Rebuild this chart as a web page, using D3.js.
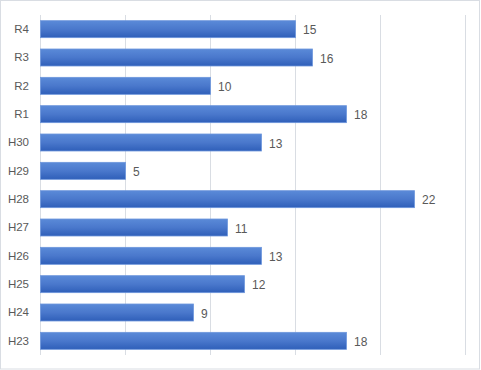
<!DOCTYPE html>
<html>
<head>
<meta charset="utf-8">
<script src="https://cdn.jsdelivr.net/npm/d3@7"></script>
<style>
  body { margin: 0; background: #fff; }
  text { font-family: "Liberation Sans", Arial, sans-serif; }
</style>
</head>
<body>
<div id="chart"></div>
<script>
var categories = ["R4", "R3", "R2", "R1", "H30", "H29", "H28", "H27", "H26", "H25", "H24", "H23"];
var values = [15, 16, 10, 18, 13, 5, 22, 11, 13, 12, 9, 18];
var tickValues = [0, 5, 10, 15, 20, 25];

var svgWidth = 481;
var svgHeight = 370;

var margin = { top: 15, right: 16, bottom: 15, left: 40 };
var width = svgWidth - margin.left - margin.right;
var height = svgHeight - margin.top - margin.bottom;

var svg = d3.select("#chart")
  .append("svg")
  .attr("width", svgWidth)
  .attr("height", svgHeight);

// outer border
svg.append("rect")
  .attr("x", 0.5).attr("y", 0.5)
  .attr("width", svgWidth - 2).attr("height", svgHeight - 1.5)
  .attr("fill", "#fff")
  .attr("stroke", "#d9dde3");

var defs = svg.append("defs");
var grad = defs.append("linearGradient")
  .attr("id", "barGrad")
  .attr("x1", 0).attr("y1", 0).attr("x2", 0).attr("y2", 1);
grad.append("stop").attr("offset", "0%").attr("stop-color", "#5a8ad8");
grad.append("stop").attr("offset", "50%").attr("stop-color", "#4a78cc");
grad.append("stop").attr("offset", "100%").attr("stop-color", "#2f5fb9");

var chartGroup = svg.append("g")
  .attr("transform", `translate(${margin.left}, ${margin.top})`);

var xScale = d3.scaleLinear()
  .domain([0, 25])
  .range([0, width]);

var yScale = d3.scaleBand()
  .domain(categories)
  .range([0, height])
  .paddingInner(0.4)
  .paddingOuter(0.2);

// gridlines
chartGroup.selectAll("line.grid")
  .data(tickValues)
  .enter()
  .append("line")
  .attr("class", "grid")
  .attr("x1", d => Math.round(xScale(d)) + 0.5)
  .attr("x2", d => Math.round(xScale(d)) + 0.5)
  .attr("y1", 0)
  .attr("y2", height)
  .attr("stroke", "#d9dde3")
  .attr("stroke-width", 1);

// category axis
var yAxis = d3.axisLeft(yScale).tickSize(0).tickPadding(11);
var yAxisGroup = chartGroup.append("g").call(yAxis);
yAxisGroup.select(".domain").remove();
yAxisGroup.selectAll("text")
  .attr("fill", "#595959")
  .style("font-size", "11.5px");

// bars
chartGroup.selectAll("rect.bar")
  .data(values)
  .enter()
  .append("rect")
  .attr("class", "bar")
  .attr("x", xScale(0) + 0.5)
  .attr("y", (d, i) => yScale(categories[i]))
  .attr("width", d => xScale(d) - xScale(0))
  .attr("height", yScale.bandwidth())
  .attr("fill", "url(#barGrad)")
  .attr("stroke", "#6e97dc")
  .attr("stroke-width", 0.8);

// value labels
chartGroup.selectAll("text.val")
  .data(values)
  .enter()
  .append("text")
  .attr("class", "val")
  .attr("x", d => xScale(d) + 8)
  .attr("y", (d, i) => yScale(categories[i]) + yScale.bandwidth() / 2 + 1)
  .attr("dy", "0.35em")
  .attr("fill", "#595959")
  .style("font-size", "12px")
  .text(d => d);
</script>
</body>
</html>
